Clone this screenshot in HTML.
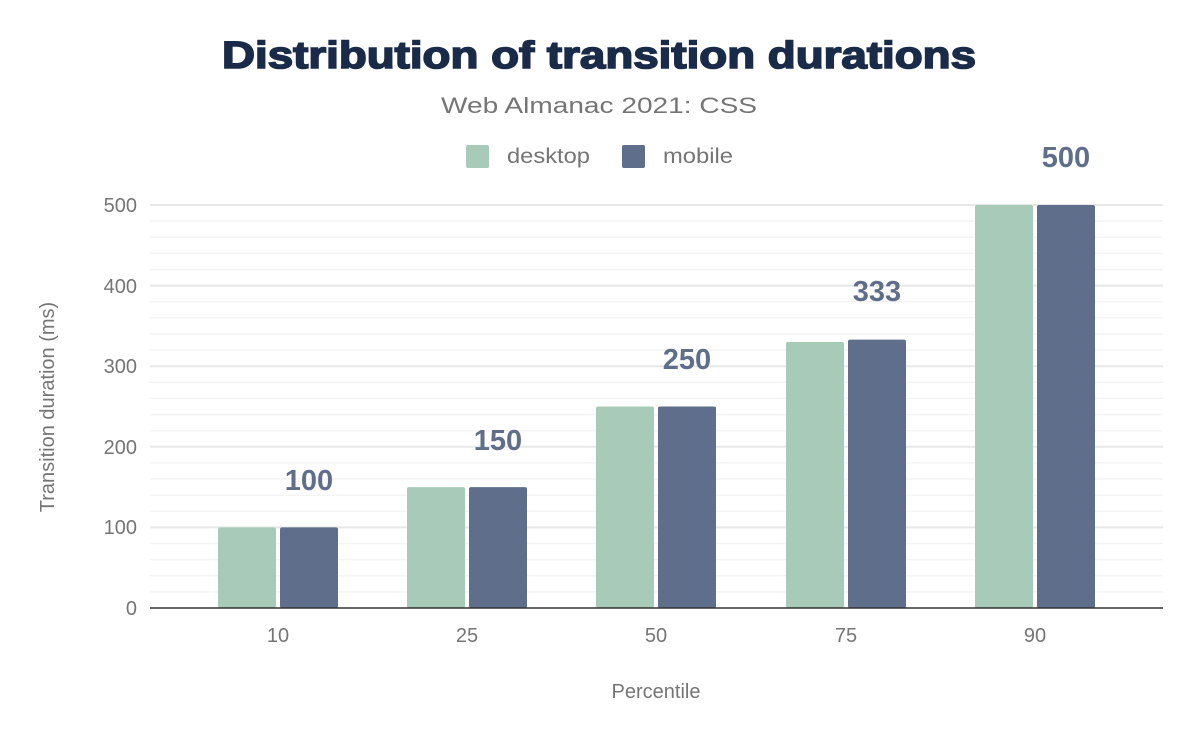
<!DOCTYPE html>
<html><head><style>body{margin:0;background:#fff}</style></head><body>
<svg width="1200" height="742" xmlns="http://www.w3.org/2000/svg" font-family="Liberation Sans, sans-serif">
<rect width="1200" height="742" fill="#fff"/>
<text x="222" y="68" font-size="38" font-weight="bold" fill="#1a2b49" stroke="#1a2b49" stroke-width="1.6" textLength="754" lengthAdjust="spacingAndGlyphs">Distribution of transition durations</text>
<text x="441" y="113" font-size="22" fill="#757575" textLength="316" lengthAdjust="spacingAndGlyphs">Web Almanac 2021: CSS</text>
<rect x="466" y="145" width="23" height="23" rx="2" fill="#a8cbb9"/>
<text x="507" y="163" font-size="21" fill="#757575" textLength="83" lengthAdjust="spacingAndGlyphs">desktop</text>
<rect x="622" y="145" width="23" height="23" rx="2" fill="#5f6e8a"/>
<text x="663" y="163" font-size="21" fill="#757575" textLength="70" lengthAdjust="spacingAndGlyphs">mobile</text>
<g stroke="#f4f4f4" stroke-width="1.5">
<line x1="150" x2="1163" y1="591.9" y2="591.9"/><line x1="150" x2="1163" y1="575.8" y2="575.8"/><line x1="150" x2="1163" y1="559.6" y2="559.6"/><line x1="150" x2="1163" y1="543.5" y2="543.5"/>
<line x1="150" x2="1163" y1="511.3" y2="511.3"/><line x1="150" x2="1163" y1="495.2" y2="495.2"/><line x1="150" x2="1163" y1="479" y2="479"/><line x1="150" x2="1163" y1="462.9" y2="462.9"/>
<line x1="150" x2="1163" y1="430.7" y2="430.7"/><line x1="150" x2="1163" y1="414.6" y2="414.6"/><line x1="150" x2="1163" y1="398.4" y2="398.4"/><line x1="150" x2="1163" y1="382.3" y2="382.3"/>
<line x1="150" x2="1163" y1="350.1" y2="350.1"/><line x1="150" x2="1163" y1="334" y2="334"/><line x1="150" x2="1163" y1="317.8" y2="317.8"/><line x1="150" x2="1163" y1="301.7" y2="301.7"/>
<line x1="150" x2="1163" y1="269.5" y2="269.5"/><line x1="150" x2="1163" y1="253.4" y2="253.4"/><line x1="150" x2="1163" y1="237.2" y2="237.2"/><line x1="150" x2="1163" y1="221.1" y2="221.1"/>
</g>
<g stroke="#e8e8e8" stroke-width="2">
<line x1="150" x2="1163" y1="527.4" y2="527.4"/><line x1="150" x2="1163" y1="446.8" y2="446.8"/><line x1="150" x2="1163" y1="366.2" y2="366.2"/><line x1="150" x2="1163" y1="285.6" y2="285.6"/><line x1="150" x2="1163" y1="205" y2="205"/>
</g>
<g font-size="20" fill="#757575" text-anchor="end">
<text x="137" y="615">0</text><text x="137" y="534">100</text><text x="137" y="454">200</text><text x="137" y="373">300</text><text x="137" y="293">400</text><text x="137" y="212">500</text>
</g>
<text transform="translate(54,407) rotate(-90)" text-anchor="middle" font-size="20" fill="#757575">Transition duration (ms)</text>
<g fill="#a8cbb9">
<rect x="218" y="527.4" width="58" height="80.6" rx="2"/>
<rect x="407" y="487.1" width="58" height="120.9" rx="2"/>
<rect x="596" y="406.5" width="58" height="201.5" rx="2"/>
<rect x="786" y="342" width="58" height="266" rx="2"/>
<rect x="975" y="205" width="58" height="403" rx="2"/>
</g>
<g fill="#5f6e8a">
<rect x="280" y="527.4" width="58" height="80.6" rx="2"/>
<rect x="469" y="487.1" width="58" height="120.9" rx="2"/>
<rect x="658" y="406.5" width="58" height="201.5" rx="2"/>
<rect x="848" y="339.6" width="58" height="268.4" rx="2"/>
<rect x="1037" y="205" width="58" height="403" rx="2"/>
</g>
<line x1="150" x2="1163" y1="608" y2="608" stroke="#333" stroke-width="1.5"/>
<g font-size="29" font-weight="bold" fill="#5f6e8a" text-anchor="middle">
<text x="309" y="490">100</text><text x="498" y="450">150</text><text x="687" y="369">250</text><text x="877" y="301">333</text><text x="1066" y="167">500</text>
</g>
<g font-size="20" fill="#757575" text-anchor="middle">
<text x="278" y="642">10</text><text x="467" y="642">25</text><text x="656" y="642">50</text><text x="846" y="642">75</text><text x="1035" y="642">90</text>
</g>
<text x="656" y="698" text-anchor="middle" font-size="20" fill="#757575">Percentile</text>
</svg>
</body></html>
